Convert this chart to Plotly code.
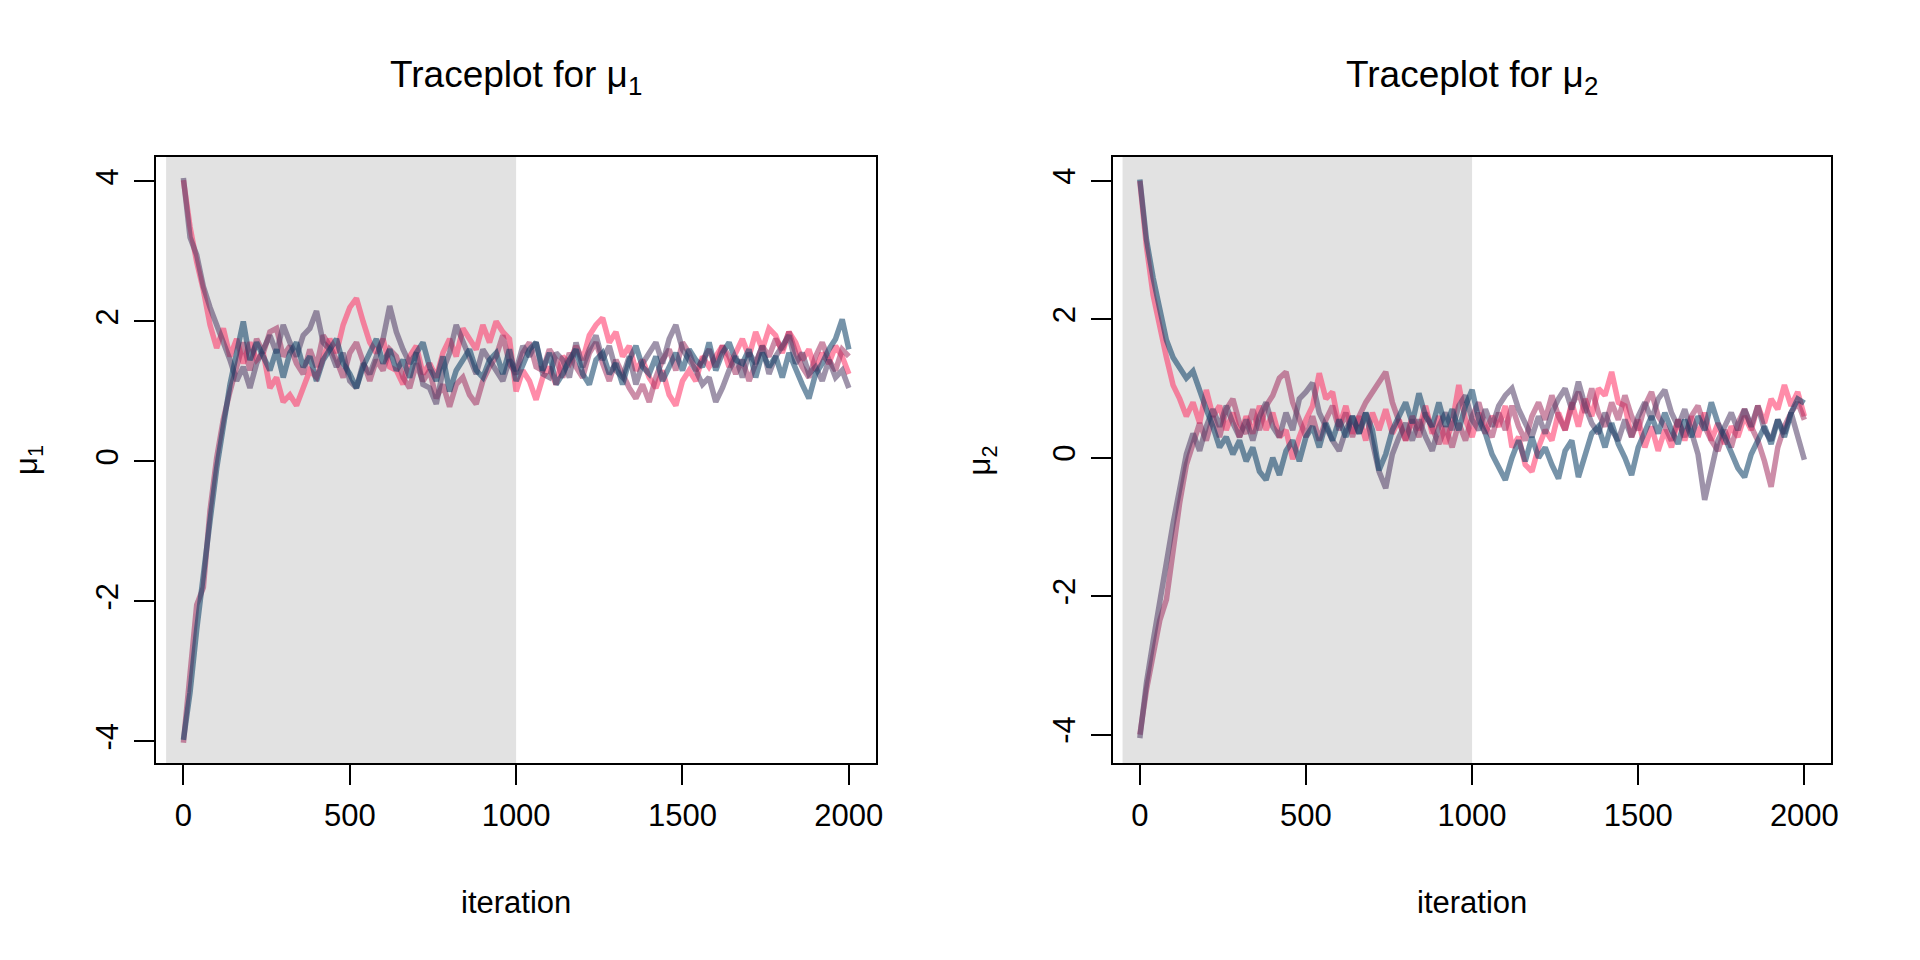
import plotly.graph_objects as go

iteration = list(range(0, 2001, 20))
burn_in = 1000

# ---- mu_1 chains ----
m1_pink = [4.02, 3.35, 2.85, 2.45, 1.95, 1.62, 1.9, 1.5, 1.75, 1.4,
           1.7, 1.45, 1.55, 1.05, 1.2, 0.85, 0.95, 0.8, 1.05, 1.3,
           1.2, 1.5, 1.75, 1.55, 1.95, 2.2, 2.33, 2.0, 1.7, 1.55,
           1.75, 1.35, 1.3, 1.1, 1.5, 1.65, 1.25, 1.4, 1.2, 1.55,
           1.75, 1.5, 1.9, 1.75, 1.6, 1.95, 1.7, 2.0, 1.85, 1.75,
           1.0, 1.3, 1.15, 0.88, 1.2, 1.35, 1.1, 1.5, 1.4, 1.65,
           1.45, 1.8, 1.95, 2.05, 1.7, 1.85, 1.5, 1.65, 1.3, 1.45,
           1.2, 1.05, 1.3, 0.95, 0.8, 1.15, 1.3, 1.15, 1.5, 1.35,
           1.5, 1.65, 1.35, 1.55, 1.75, 1.5, 1.85, 1.6, 1.9, 1.8,
           1.55, 1.85, 1.7, 1.45, 1.6, 1.3, 1.55, 1.4, 1.65, 1.5,
           1.25]
m1_rose = [-4.02, -3.0, -2.05, -1.8, -0.7, 0.05, 0.6, 1.0, 1.35, 1.7,
           1.3, 1.75, 1.55, 1.85, 1.9, 1.5, 1.65, 1.4, 1.25, 1.6,
           1.35, 1.8, 1.65, 1.45, 1.2, 1.55, 1.7, 1.4, 1.15, 1.45,
           1.3, 1.6, 1.5, 1.2, 1.05, 1.4, 1.15, 1.3, 0.9, 1.1,
           0.78, 1.1, 1.2, 0.95, 0.82, 1.15, 1.35, 1.5, 1.8, 1.4,
           1.25, 1.55, 1.7, 1.35, 1.3, 1.6, 1.45, 1.2, 1.55, 1.35,
           1.2, 1.55, 1.7, 1.4, 1.15, 1.45, 1.25, 1.05, 0.9, 1.1,
           0.85, 1.2, 1.45, 1.6, 1.3, 1.7, 1.55, 1.3, 1.45, 1.6,
           1.35, 1.65, 1.5, 1.25, 1.45, 1.15, 1.4, 1.65, 1.5, 1.75,
           1.6, 1.85, 1.55, 1.35, 1.2, 1.5, 1.7, 1.45, 1.3, 1.6,
           1.5]
m1_purple = [4.05, 3.2, 2.95, 2.5, 2.2, 1.95, 1.75, 1.45, 1.15, 1.35,
             1.05, 1.4, 1.6, 1.8, 1.55, 1.95, 1.7, 1.5, 1.8, 1.9,
             2.15, 1.7, 1.6, 1.35, 1.55, 1.15, 1.05, 1.4, 1.25, 1.5,
             1.75, 2.22, 1.85, 1.6, 1.4, 1.55, 1.1, 1.05, 0.82, 1.3,
             1.55, 1.95, 1.7, 1.5, 1.25, 1.6, 1.45, 1.3, 1.15, 1.45,
             1.3, 1.65, 1.5, 1.7, 1.25, 1.2, 1.55, 1.45, 1.2, 1.7,
             1.35, 1.6, 1.8, 1.45, 1.65, 1.3, 1.2, 1.5, 1.1, 1.4,
             1.55, 1.7, 1.4, 1.75, 1.95, 1.6, 1.45, 1.3, 1.1, 1.2,
             0.85, 1.05, 1.3, 1.5, 1.2, 1.55, 1.4, 1.65, 1.25, 1.5,
             1.65, 1.8, 1.4, 1.55, 1.25, 1.35, 1.15, 1.45, 1.2, 1.3,
             1.05]
m1_blue = [-3.98, -3.3, -2.4, -1.55, -0.85, -0.1, 0.55, 1.1, 1.55, 2.0,
           1.45, 1.7, 1.5, 1.3, 1.6, 1.2, 1.55, 1.7, 1.35, 1.5,
           1.15, 1.45, 1.6, 1.75, 1.4, 1.25, 1.05, 1.35, 1.55, 1.75,
           1.4, 1.6, 1.3, 1.45, 1.2, 1.55, 1.7, 1.35, 1.15, 1.5,
           1.0, 1.3, 1.45, 1.6, 1.3, 1.2, 1.45, 1.55, 1.25, 1.6,
           1.15, 1.4, 1.6, 1.7, 1.3, 1.55, 1.1, 1.25, 1.45, 1.6,
           1.25, 1.1, 1.45, 1.55, 1.25, 1.4, 1.1, 1.45, 1.65, 1.35,
           1.25, 1.5, 1.15, 1.35, 1.55, 1.3, 1.6, 1.45, 1.35, 1.7,
           1.3, 1.55, 1.7, 1.45, 1.4, 1.6, 1.2, 1.55, 1.35, 1.5,
           1.2, 1.55, 1.3, 1.1, 0.9, 1.25, 1.4, 1.6, 1.75, 2.03,
           1.6]

# ---- mu_2 chains ----
m2_pink = [4.0, 3.05, 2.35, 1.85, 1.45, 1.05, 0.85, 0.6, 0.8, 0.5,
           0.98, 0.6, 0.75, 0.4, 0.65, 0.3, 0.6, 0.35, 0.75, 0.4,
           0.65, 0.3, 0.4, -0.02, 0.3, 0.55, 0.75, 1.22, 0.85, 0.95,
           0.45, 0.75, 0.35, 0.6, 0.25, 0.65, 0.4, 0.7, 0.35, 0.55,
           0.25, 0.6, 0.4, 0.75, 0.35, 0.6, 0.2, 0.5, 1.05, 0.55,
           0.3, 0.65, 0.35, 0.6, 0.45, 0.75, 0.15, 0.3, -0.1, -0.2,
           0.15, 0.4, 0.25, 0.65, 0.4, 0.8, 0.45, 0.85, 0.6, 1.0,
           0.9, 1.24, 0.8, 0.75, 0.3, 0.55, 0.15, 0.45, 0.1, 0.4,
           0.15, 0.55, 0.25, 0.6, 0.3, 0.65, 0.25, 0.5, 0.2, 0.45,
           0.3, 0.6, 0.4, 0.75, 0.5, 0.85, 0.7, 1.05, 0.75, 0.95,
           0.6]
m2_rose = [-4.0, -3.35, -2.85, -2.35, -2.05, -1.35, -0.65, -0.1, 0.2, 0.5,
           0.25, 0.6, 0.3, 0.7, 0.85, 0.5, 0.35, 0.7, 0.4, 0.75,
           0.9, 1.15, 1.24, 0.8, 0.55, 0.3, 0.6, 0.25, 0.55, 0.75,
           0.4, 0.65, 0.3, 0.6, 0.8, 0.95, 1.1, 1.24, 0.8, 0.5,
           0.25, 0.55, 0.3, 0.65, 0.4, 0.2, 0.45, 0.15, 0.5, 0.25,
           0.6, 0.8, 0.45, 0.3, 0.65, 0.4, 0.75, 0.45, 0.25, 0.6,
           0.8, 0.55, 0.9, 0.6, 0.4, 0.75, 0.95, 0.65, 1.0, 0.65,
           0.45, 0.8, 0.55, 0.9, 0.6, 0.4, 0.75, 0.95, 0.6, 0.45,
           0.25, 0.55, 0.3, 0.6, 0.75, 0.45, 0.25, 0.1, 0.4, 0.15,
           0.5, 0.7, 0.45, 0.25, -0.05, -0.42, 0.15, 0.45, 0.65, 0.8,
           0.55]
m2_purple = [-4.05, -3.25, -2.65, -2.05, -1.5, -0.95, -0.45, 0.05, 0.35, 0.1,
             0.45, 0.7, 0.45, 0.75, 0.5, 0.3, 0.55, 0.25, 0.6, 0.8,
             0.45, 0.3, 0.65, 0.4, 0.85, 0.95, 1.08, 0.65, 0.45, 0.25,
             0.1, 0.4, 0.6, 0.35, 0.65, 0.25, -0.2, -0.44, 0.05, 0.3,
             0.5, 0.25, 0.55, 0.3, 0.1, 0.45, 0.65, 0.4, 0.75, 0.9,
             0.55, 0.4, 0.7, 0.45, 0.75, 0.9, 1.0, 0.7, 0.5, 0.3,
             0.6, 0.35, 0.65, 0.85, 1.0, 0.7, 1.1, 0.75, 0.5, 0.35,
             0.65, 0.4, 0.25, 0.55, 0.3, 0.6, 0.8, 0.55, 0.85, 0.98,
             0.65, 0.45, 0.7, 0.35, 0.05, -0.61, -0.15, 0.25, 0.45, 0.65,
             0.4, 0.7, 0.45, 0.75, 0.4, 0.25, 0.55, 0.35, 0.65, 0.3,
             -0.03]
m2_blue = [4.02, 3.15, 2.6, 2.1, 1.7, 1.45, 1.3, 1.15, 1.25, 0.95,
           0.7, 0.45, 0.15, 0.3, 0.05, 0.25, -0.05, 0.15, -0.2, -0.32,
           0.0, -0.25, 0.1, 0.25, -0.05, 0.3, 0.45, 0.15, 0.5, 0.25,
           0.55, 0.3, 0.6, 0.35, 0.65, 0.4, -0.18, 0.05, 0.4, 0.6,
           0.8, 0.5, 0.93, 0.6, 0.45, 0.8, 0.45, 0.7, 0.4, 0.75,
           0.98, 0.55, 0.35, 0.05, -0.15, -0.32, 0.0, 0.25, -0.05, 0.3,
           0.0, 0.15, -0.1, -0.3, 0.1, 0.25, -0.28, 0.05, 0.35, 0.45,
           0.15, 0.5, 0.2, 0.0, -0.25, 0.15, 0.4, 0.6, 0.35, 0.65,
           0.4, 0.2, 0.55, 0.3, 0.6, 0.4, 0.8, 0.5, 0.3, 0.05,
           -0.15, -0.28, 0.05, 0.25, 0.45, 0.2, 0.55, 0.3, 0.65, 0.85,
           0.79]

y_ticks = [-4, -2, 0, 2, 4]
y_tick_labels = ["-4", "-2", "0", "2", "4"]
x_ticks = [0, 500, 1000, 1500, 2000]

colors = ["rgba(255,46,99,0.55)", "rgba(163,48,96,0.55)",
          "rgba(79,58,100,0.55)", "rgba(5,58,99,0.55)"]

panels = [
    ("x", "y", [m1_pink, m1_rose, m1_purple, m1_blue], [-4.31, 4.35], "1"),
    ("x2", "y2", [m2_pink, m2_rose, m2_purple, m2_blue], [-4.41, 4.345], "2"),
]

FONT = "Liberation Sans, Arial, Helvetica, sans-serif"

# the page body keeps its default 8px margin, so the figure is 1904x944
W, H, OFF = 1904, 944, 8


def px(x):
    return (x - OFF) / W


def py(y):
    return 1 - (y - OFF) / H


fig = go.Figure()
for xa, ya, chains, _, _ in panels:
    for vals, col in zip(chains, colors):
        fig.add_trace(go.Scatter(x=iteration, y=vals, mode="lines",
                                 line=dict(color=col, width=5.5),
                                 xaxis=xa, yaxis=ya, showlegend=False,
                                 hoverinfo="skip"))

x_domains = [[px(157), px(879)], [px(1117), px(1838)]]
y_domain = [py(763), py(157)]

axis_common = dict(showline=True, linecolor="black", linewidth=2, mirror=True,
                   ticks="outside", ticklen=20, tickwidth=2, tickcolor="black",
                   showgrid=False, zeroline=False,
                   tickfont=dict(family=FONT, size=31, color="black"))

layout = dict(width=W, height=H, margin=dict(l=0, r=0, t=0, b=0),
              paper_bgcolor="white", plot_bgcolor="white",
              font=dict(family=FONT, size=31, color="black"),
              shapes=[], annotations=[])

for i, (xa, ya, _, yr, sub) in enumerate(panels):
    xkey = "xaxis" if i == 0 else "xaxis2"
    ykey = "yaxis" if i == 0 else "yaxis2"
    layout[xkey] = dict(axis_common, domain=x_domains[i], range=[-81, 2081],
                        tickvals=x_ticks, anchor=ya, ticklabelstandoff=4)
    layout[ykey] = dict(axis_common, domain=y_domain, range=yr,
                        tickvals=y_ticks, ticktext=y_tick_labels,
                        tickangle=-90, anchor=xa, ticklabelstandoff=4)
    # burn-in region
    layout["shapes"].append(dict(type="rect", xref=xa, yref=ya + " domain",
                                 x0=-52, x1=burn_in, y0=0, y1=1,
                                 fillcolor="#e2e2e2", line=dict(width=0),
                                 layer="below"))
    xc = sum(x_domains[i]) / 2
    layout["annotations"].append(dict(
        text="Traceplot for μ<sub>%s</sub>" % sub, x=xc, y=py(77),
        xref="paper", yref="paper", showarrow=False, xanchor="center",
        yanchor="middle", font=dict(family=FONT, size=37, color="black")))
    layout["annotations"].append(dict(
        text="iteration", x=xc, y=py(902), xref="paper", yref="paper",
        showarrow=False, xanchor="center", yanchor="middle",
        font=dict(family=FONT, size=31, color="black")))
    ylab_x = px(29 if i == 0 else 986)
    layout["annotations"].append(dict(
        text="μ<sub>%s</sub>" % sub, x=ylab_x, y=sum(y_domain) / 2,
        xref="paper", yref="paper", showarrow=False, textangle=-90,
        xanchor="center", yanchor="middle",
        font=dict(family=FONT, size=31, color="black")))

fig.update_layout(**layout)
fig.write_html("out.html")
